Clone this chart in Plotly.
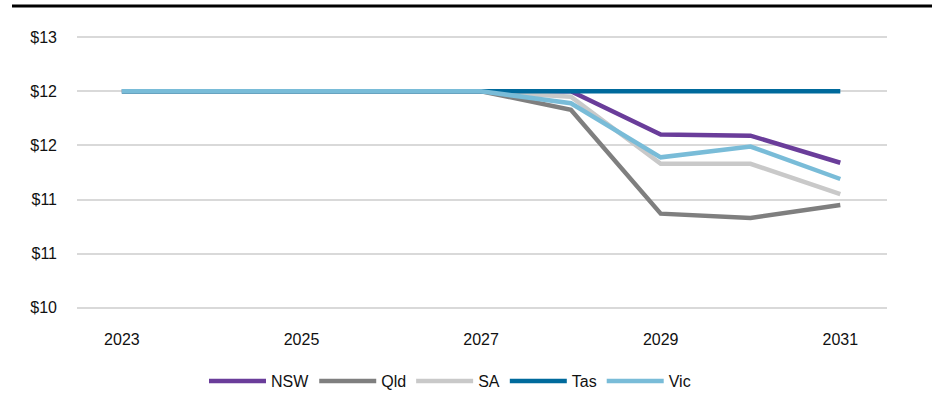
import plotly.graph_objects as go

# Annual values by state
years = [2023, 2024, 2025, 2026, 2027, 2028, 2029, 2030, 2031]
nsw = [12.0, 12.0, 12.0, 12.0, 12.0, 12.0, 11.60, 11.59, 11.34]
qld = [12.0, 12.0, 12.0, 12.0, 12.0, 11.83, 10.87, 10.83, 10.95]
sa = [12.0, 12.0, 12.0, 12.0, 12.0, 11.95, 11.33, 11.33, 11.05]
tas = [12.0, 12.0, 12.0, 12.0, 12.0, 12.0, 12.0, 12.0, 12.0]
vic = [12.0, 12.0, 12.0, 12.0, 12.0, 11.89, 11.39, 11.49, 11.19]

series_names = ["NSW", "Qld", "SA", "Tas", "Vic"]
series_values = [nsw, qld, sa, tas, vic]
series_colors = ["#6A3D9A", "#7F7F7F", "#C9C9C9", "#006A9C", "#79BCD8"]

y_ticks = [10.0, 10.5, 11.0, 11.5, 12.0, 12.5]
y_ticktext = ["$10", "$11", "$11", "$12", "$12", "$13"]
x_ticks = [2023, 2025, 2027, 2029, 2031]

FONT = "Liberation Sans, Arial, sans-serif"

fig = go.Figure()
for name, vals, col in zip(series_names, series_values, series_colors):
    fig.add_trace(go.Scatter(
        x=years, y=vals, name=name, mode="lines",
        line=dict(color=col, width=4.5),
    ))

W, H = 932, 396
ml, mr, mt, mb = 77, 45, 35, 86
pw, ph = W - ml - mr, H - mt - mb

def px_x(x):
    return (x - ml) / pw

def px_y(y):
    return (H - mb - y) / ph

fig.update_layout(
    width=W, height=H,
    margin=dict(l=ml, r=mr, t=mt, b=mb, autoexpand=False),
    paper_bgcolor="white", plot_bgcolor="white",
    font=dict(family=FONT, size=16, color="#111111"),
    showlegend=True,
    legend=dict(
        orientation="h", x=px_x(450), xanchor="center",
        yref="container", y=(H - 381) / H, yanchor="middle",
        font=dict(family=FONT, size=16, color="#111111"),
        itemwidth=57, traceorder="normal", tracegroupgap=0,
    ),
    xaxis=dict(
        range=[2022.5, 2031.52], tickvals=x_ticks, ticktext=[str(v) for v in x_ticks],
        showgrid=False, zeroline=False, showline=False, ticks="",
        ticklabelstandoff=18,
    ),
    yaxis=dict(
        range=[9.98, 12.52], tickvals=y_ticks, ticktext=y_ticktext,
        showgrid=True, gridcolor="#D9D9D9", gridwidth=1.5, zeroline=False,
        showline=False, ticks="", ticklabelstandoff=19,
    ),
    shapes=[dict(
        type="line", xref="paper", yref="paper",
        x0=px_x(12), x1=px_x(932), y0=px_y(6), y1=px_y(6),
        line=dict(color="black", width=3),
    )],
)

fig.write_html("out.html")
